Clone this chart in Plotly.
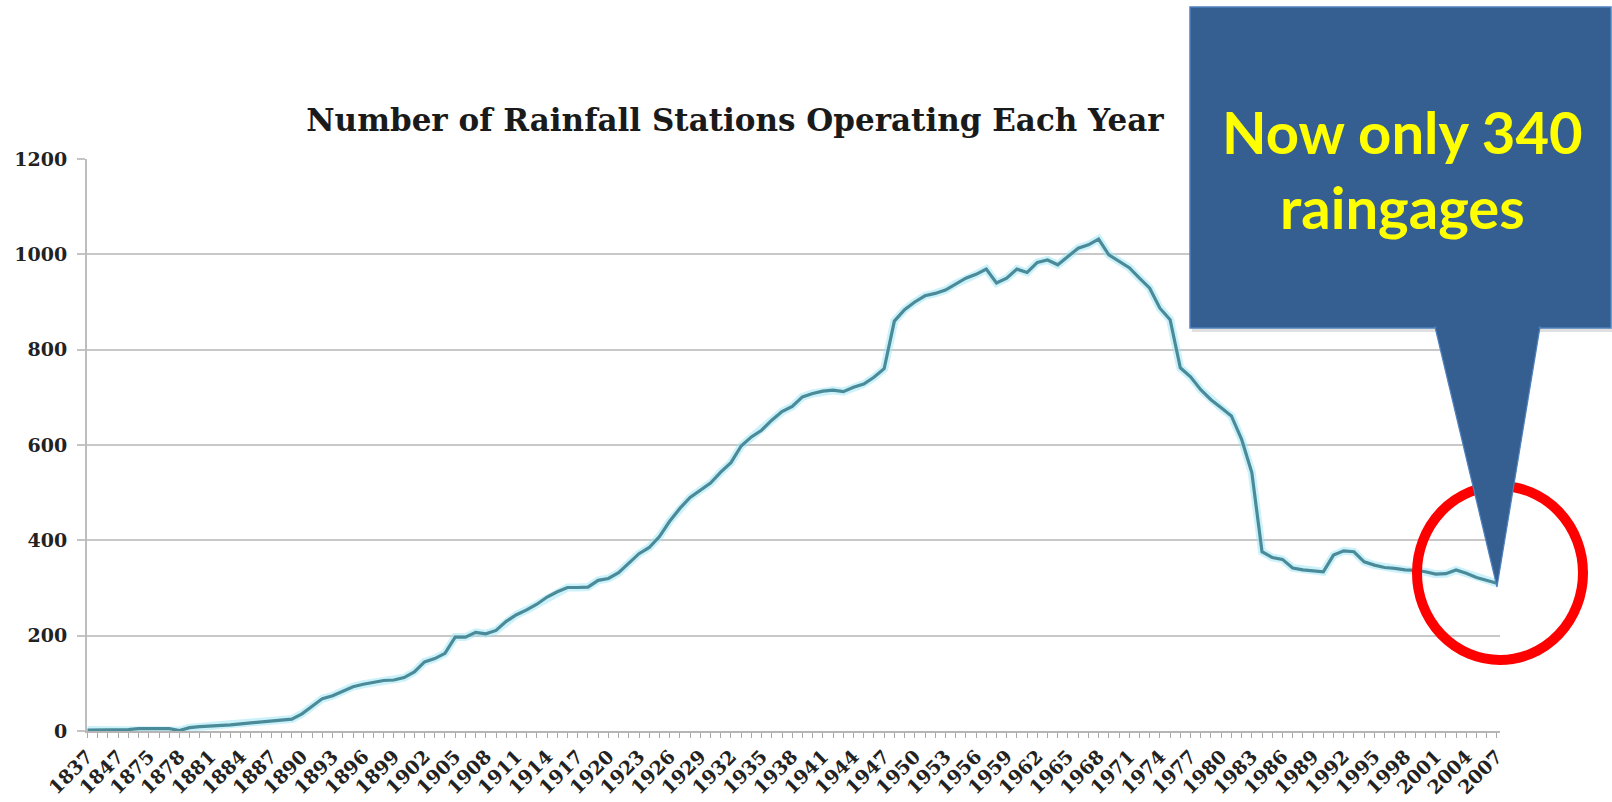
import plotly.graph_objects as go

# ---- data ----
early_years = ["1837", "1838", "1840", "1847", "1856", "1870"]
years = early_years + [str(y) for y in range(1875, 2008)]
stations = [
    2, 2, 2, 3, 3, 5, 5, 5, 5, 1,
    7, 9, 10, 11, 13, 15, 17, 19, 21, 22,
    25, 36, 52, 68, 74, 84, 93, 98, 102, 106,
    107, 112, 124, 145, 152, 163, 197, 197, 207, 204,
    211, 230, 244, 254, 266, 281, 292, 301, 301, 302,
    316, 320, 332, 352, 372, 385, 408, 440, 467, 490,
    505, 520, 543, 563, 598, 617, 631, 652, 670, 681,
    701, 708, 713, 715, 712, 721, 728, 742, 760, 860,
    884, 900, 913, 918, 925, 938, 950, 958, 969, 940,
    950, 969, 962, 983, 988, 978, 995, 1013, 1020, 1032,
    999, 985, 972, 950, 929, 887, 863, 762, 743, 716,
    695, 678, 661, 612, 542, 376, 364, 360, 342, 338,
    336, 334, 369, 378, 376, 355, 348, 343, 341, 338,
    337, 334, 329, 330, 338, 331, 322, 316, 310,
]
tick_labels = ["1837", "1847"] + [str(y) for y in range(1875, 2008, 3)]
y_ticks = [0, 200, 400, 600, 800, 1000, 1200]

title_text = "Number of Rainfall Stations Operating Each Year"
callout_text = "Now only 340<br>raingages"

# ---- layout geometry (pixels) ----
W, H = 1612, 802
L, R, T, B = 87, 112, 159, 71
PW, PH = W - L - R, H - T - B


def px(X):
    return (X - L) / PW


def py(Y):
    return (H - B - Y) / PH


fig = go.Figure()

# glow under line
fig.add_trace(go.Scatter(
    x=years, y=stations, mode="lines",
    line=dict(color="rgba(160,232,245,0.55)", width=8),
    hoverinfo="skip", showlegend=False,
))
fig.add_trace(go.Scatter(
    x=years, y=stations, mode="lines",
    line=dict(color="#4b8a98", width=3.2),
    showlegend=False,
))

tickvals_all = years
ticktext_all = [y if y in tick_labels else "" for y in years]

fig.update_layout(
    width=W, height=H,
    margin=dict(l=L, r=R, t=T, b=B),
    paper_bgcolor="white", plot_bgcolor="white",
    showlegend=False,
    title=dict(
        text=title_text,
        font=dict(family="DejaVu Serif", size=31, color="#1a1a1a", weight="bold"),
        x=px(735), xref="paper", xanchor="center",
        y=1 - 120 / H, yref="container", yanchor="middle",
    ),
    xaxis=dict(
        type="category",
        categoryorder="array", categoryarray=years,
        range=[-0.05, len(years) - 1 + 0.3],
        tickmode="array", tickvals=tickvals_all, ticktext=ticktext_all,
        tickangle=-45,
        tickfont=dict(family="DejaVu Serif", size=19, color="#222222", weight="bold"),
        ticks="outside", ticklen=5, tickcolor="#a8a8a8", tickwidth=1,
        showgrid=False, zeroline=False,
        showline=True, linecolor="#b5b5b5", linewidth=2,
        automargin=False,
    ),
    yaxis=dict(
        range=[0, 1200],
        tickmode="array", tickvals=y_ticks,
        tickfont=dict(family="DejaVu Serif", size=19, color="#222222", weight="bold"),
        ticks="outside", ticklen=8, tickcolor="#c4c4c4", tickwidth=2,
        ticklabelstandoff=6,
        showgrid=True, gridcolor="#c8c8c8", gridwidth=2,
        zeroline=False,
        showline=True, linecolor="#bdbdbd", linewidth=2,
        automargin=False,
    ),
)

shapes = []
# red circle
shapes.append(dict(
    type="circle", xref="paper", yref="paper",
    x0=px(1417), x1=px(1583), y0=py(660), y1=py(486),
    line=dict(color="#ff0000", width=10), fillcolor="rgba(0,0,0,0)",
    layer="above",
))
# callout shadow
shapes.append(dict(
    type="rect", xref="paper", yref="paper",
    x0=px(1192), x1=px(1614), y0=py(332), y1=py(10),
    line=dict(width=0), fillcolor="rgba(0,0,0,0.12)", layer="above",
))
# callout box
shapes.append(dict(
    type="rect", xref="paper", yref="paper",
    x0=px(1190), x1=px(1611), y0=py(328), y1=py(7),
    line=dict(color="#4f81bd", width=1.5), fillcolor="#365f91", layer="above",
))
# pointer
path = "M {:.5f} {:.5f} L {:.5f} {:.5f} L {:.5f} {:.5f} Z".format(
    px(1435), py(327), px(1540), py(327), px(1497), py(587))
shapes.append(dict(
    type="path", xref="paper", yref="paper", path=path,
    line=dict(color="#4f81bd", width=1.2), fillcolor="#365f91", layer="above",
))
# cover seam between box and pointer
shapes.append(dict(
    type="rect", xref="paper", yref="paper",
    x0=px(1436.5), x1=px(1538.5), y0=py(330), y1=py(322),
    line=dict(width=0), fillcolor="#365f91", layer="above",
))
fig.update_layout(shapes=shapes)

fig.add_annotation(
    text=callout_text, xref="paper", yref="paper",
    x=px(1402), y=py(169), xanchor="center", yanchor="middle",
    showarrow=False, align="center",
    font=dict(family="Lato", size=58, color="#ffff00", weight="bold"),
)

fig.write_html("out.html")
